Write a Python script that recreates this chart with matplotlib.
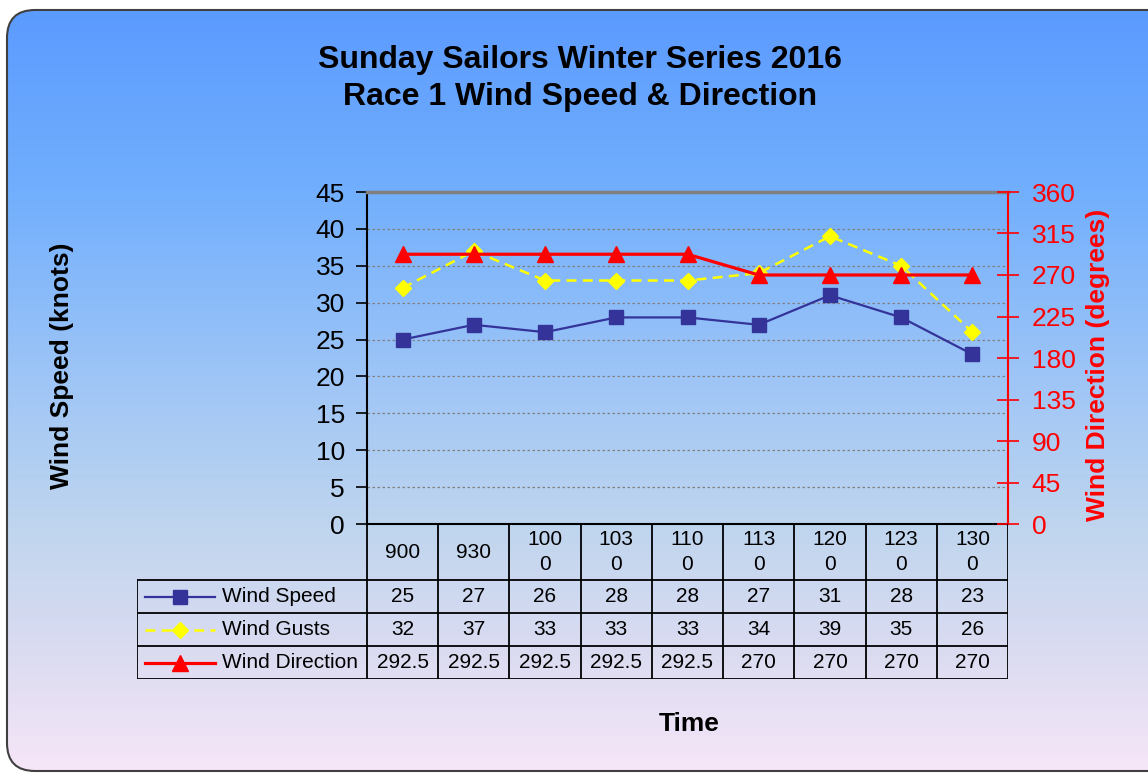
import textwrap
import numpy as np
import matplotlib
matplotlib.use('Agg')
import matplotlib.pyplot as plt
from matplotlib.colors import LinearSegmentedColormap
from matplotlib.patches import FancyBboxPatch
from matplotlib.lines import Line2D

plt.rcParams['font.family'] = ['Liberation Sans', 'DejaVu Sans']

# data
times = ['900', '930', '1000', '1030', '1100', '1130', '1200', '1230', '1300']
wind_speed = [25, 27, 26, 28, 28, 27, 31, 28, 23]
wind_gusts = [32, 37, 33, 33, 33, 34, 39, 35, 26]
wind_dir = [292.5, 292.5, 292.5, 292.5, 292.5, 270, 270, 270, 270]

W, H = 1148, 774
fig = plt.figure(figsize=(W / 100, H / 100), dpi=100)

# background: vertical gradient inside a rounded frame
bg = fig.add_axes([0, 0, 1, 1], zorder=-10)
bg.set_xlim(0, W)
bg.set_ylim(H, 0)
bg.axis('off')
cmap = LinearSegmentedColormap.from_list('bg', [
    (0.0, '#5A9AFF'), (0.25, '#72AFFD'), (0.5, '#A0C6F6'),
    (0.68, '#BFD5EE'), (0.85, '#DCDCF1'), (1.0, '#F7E6F8')])
grad = np.linspace(0, 1, 256)[:, None]
im = bg.imshow(grad, extent=(0, W, H, 0), aspect='auto', cmap=cmap)
frame = FancyBboxPatch((7, 10), 1200, 761, boxstyle='round,pad=0,rounding_size=28',
                       fc='none', ec='#404040', lw=1.5)
bg.add_patch(frame)
im.set_clip_path(frame)

# main plot area
x0, x1, y0, y1 = 367, 1008, 192, 524
ax = fig.add_axes([x0 / W, 1 - y1 / H, (x1 - x0) / W, (y1 - y0) / H])
ax.set_facecolor('none')
x = np.arange(len(times))
ax.set_xlim(-0.5, len(times) - 0.5)
ax.set_ylim(0, 45)
ax.set_yticks(range(0, 46, 5))
ax.set_xticks([])
ax.yaxis.grid(True, color='#808080', lw=0.9, linestyle=(0, (2, 2)))
ax.set_axisbelow(True)
ax.spines['top'].set_color('#808080')
ax.spines['top'].set_linewidth(2.5)
ax.spines['left'].set_linewidth(1.5)
ax.spines['bottom'].set_linewidth(1.5)
ax.spines['right'].set_visible(False)
ax.tick_params(axis='y', direction='out', length=8, width=1.2, labelsize=19, pad=8)

gust_style = dict(color='#FFFF00', lw=1.8, linestyle=(0, (4, 2.5)), marker='D', markersize=8)
speed_style = dict(color='#333399', lw=1.6, marker='s', markersize=10)
dir_style = dict(color='#FF0000', lw=2.3, marker='^', markersize=11)

ax.plot(x, wind_gusts, zorder=3, **gust_style)
ax.plot(x, wind_speed, zorder=4, **speed_style)

ax2 = ax.twinx()
ax2.set_ylim(0, 360)
ax2.set_yticks(range(0, 361, 45))
for s in ['top', 'left', 'bottom']:
    ax2.spines[s].set_visible(False)
ax2.spines['right'].set_color('#FF0000')
ax2.spines['right'].set_linewidth(1.5)
ax2.tick_params(axis='y', direction='inout', length=16, width=1.2, colors='#FF0000',
                labelsize=19, pad=9)
ax2.plot(x, wind_dir, zorder=5, **dir_style)

# data table under the plot
col_w = (x1 - x0) / len(times)
left_px = 137
header_h, row_h = 56, 33
tab_h = header_h + 3 * row_h
tax = fig.add_axes([left_px / W, 1 - (y1 + tab_h) / H, (x1 - left_px) / W, tab_h / H])
tax.set_xlim(-0.5 - (x0 - left_px) / col_w, len(times) - 0.5)
tax.set_ylim(tab_h, 0)
tax.axis('off')


def px2x(p):
    return -0.5 + (p - x0) / col_w


lk = dict(color='black', lw=1.3, solid_capstyle='projecting')
xl = px2x(left_px)
xr = len(times) - 0.5
# horizontal lines
for yy in [header_h + i * row_h for i in range(4)]:
    tax.plot([xl, xr], [yy, yy], **lk)
# vertical lines
tax.plot([xl, xl], [header_h, tab_h], **lk)
for i in range(len(times) + 1):
    tax.plot([i - 0.5, i - 0.5], [0, tab_h], **lk)

for i, t in enumerate(times):
    tax.text(i, header_h / 2, textwrap.fill(t, 3), ha='center', va='center',
             fontsize=15, linespacing=1.4)

rows = [('Wind Speed', wind_speed, speed_style),
        ('Wind Gusts', wind_gusts, gust_style),
        ('Wind Direction', wind_dir, dir_style)]
for r, (name, vals, style) in enumerate(rows):
    yc = header_h + (r + 0.5) * row_h
    for i, v in enumerate(vals):
        tax.text(i, yc, f'{v:g}', ha='center', va='center', fontsize=15)
    tax.add_line(Line2D([px2x(145), px2x(215)], [yc, yc], markevery=[], **style))
    tax.plot([px2x(180)], [yc], linestyle='none', marker=style['marker'],
             markersize=style['markersize'], color=style['color'])
    tax.text(px2x(222), yc, name, ha='left', va='center', fontsize=15)

# titles and axis labels
fig.text(580 / W, 1 - 60 / H, 'Sunday Sailors Winter Series 2016', ha='center', va='center',
         fontsize=23, fontweight='bold')
fig.text(580 / W, 1 - 97 / H, 'Race 1 Wind Speed & Direction', ha='center', va='center',
         fontsize=23, fontweight='bold')
fig.text(62 / W, 1 - 366 / H, 'Wind Speed (knots)', rotation=90, ha='center', va='center',
         fontsize=19, fontweight='bold')
fig.text(1098 / W, 1 - 365 / H, 'Wind Direction (degrees)', rotation=90, ha='center',
         va='center', fontsize=19, fontweight='bold', color='#FF0000')
fig.text(689 / W, 1 - 724 / H, 'Time', ha='center', va='center', fontsize=19,
         fontweight='bold')

fig.savefig('out.png', dpi=100)
